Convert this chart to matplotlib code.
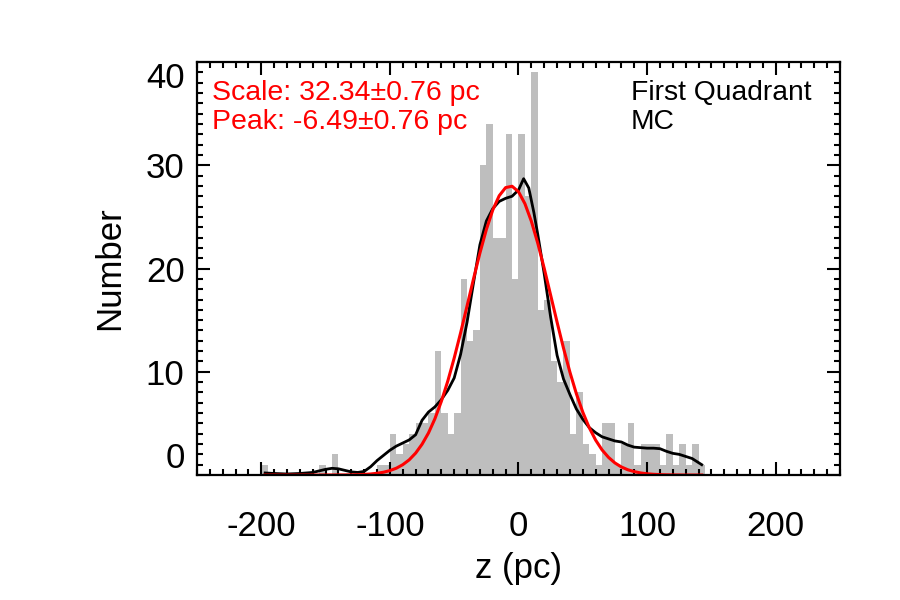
import matplotlib
matplotlib.use('Agg')
import matplotlib.pyplot as plt
from matplotlib.ticker import MultipleLocator

plt.rcParams['font.family'] = ['Liberation Sans', 'DejaVu Sans']
plt.rcParams['axes.unicode_minus'] = False

# histogram: left bin edges (pc) and counts, 5 pc bins
bin_left = list(range(-200, 145, 5))
counts = [1, 0, 0, 0, 0, 0, 0, 0, 0, 1,
          0, 2, 0, 0, 0, 0, 0, 0, 1, 1,
          4, 2, 3, 4, 5, 5, 6, 12, 6, 4,
          6, 19, 13, 14, 30, 34, 23, 23, 33, 19,
          33, 27, 39, 16, 17, 11, 9, 13, 4, 8,
          3, 2, 1, 5, 5, 1, 3, 5, 1, 3,
          3, 3, 1, 4, 1, 3, 1, 3, 1]

# smoothed distribution (black)
smooth_z = [-197, -190, -180, -170, -160, -150, -145, -140, -135, -130,
            -125, -120, -115, -110, -105, -100, -95, -90, -85, -80,
            -75, -70, -65, -60, -55, -50, -45, -40, -35, -30,
            -25, -20, -15, -10, -5, 0, 4, 8, 12, 15,
            20, 25, 30, 35, 40, 45, 50, 55, 60, 65,
            70, 75, 80, 85, 90, 95, 100, 105, 110, 115,
            120, 125, 130, 135, 140, 142.5]
smooth_n = [0.2, 0.15, 0.1, 0.15, 0.25, 0.55, 0.65, 0.6, 0.45, 0.3,
            0.25, 0.35, 0.8, 1.4, 1.9, 2.4, 2.8, 3.1, 3.4, 3.9,
            5.3, 6.1, 6.6, 7.3, 8.2, 9.4, 11.7, 14.8, 18.6, 22.3,
            24.6, 25.8, 26.5, 26.8, 27.0, 27.6, 28.7, 27.8, 25.4, 23.3,
            19.5, 15.3, 11.6, 9.3, 7.8, 6.4, 5.4, 4.6, 4.1, 3.7,
            3.5, 3.3, 3.2, 2.9, 2.7, 2.65, 2.6, 2.6, 2.55, 2.3,
            2.1, 2.0, 1.8, 1.6, 1.2, 1.0]

# fitted curve (red)
fit_z = [-197, -185, -170, -155, -140, -135, -130, -125, -120, -115,
         -110, -105, -100, -95, -90, -85, -80, -75, -70, -65,
         -60, -55, -50, -45, -40, -35, -30, -25, -20, -15,
         -10, -5, 0, 5, 10, 15, 20, 25, 30, 35,
         40, 45, 50, 55, 60, 65, 70, 75, 80, 85,
         90, 95, 100, 105, 110, 115, 120, 130, 142.5]
fit_n = [0, 0, 0, 0, 0.01, 0.01, 0.02, 0.03, 0.06, 0.1,
         0.17, 0.27, 0.43, 0.66, 1.0, 1.47, 2.12, 2.98, 4.07, 5.45,
         7.13, 9.09, 11.33, 13.78, 16.37, 18.99, 21.5, 23.77, 25.67, 27.05,
         27.84, 27.97, 27.44, 26.28, 24.58, 22.45, 20.02, 17.42, 14.81, 12.29,
         9.96, 7.88, 6.09, 4.59, 3.38, 2.43, 1.71, 1.17, 0.78, 0.51,
         0.33, 0.2, 0.12, 0.07, 0.04, 0.02, 0.01, 0, 0]

fig = plt.figure(figsize=(9, 6), dpi=100)
ax = fig.add_axes([0.2189, 0.2083, 0.7144, 0.6883])

ax.bar(bin_left, counts, width=5, align='edge', color='#bebebe', edgecolor='none')
ax.plot(smooth_z, smooth_n, color='black', lw=2.0)
ax.plot(fit_z, fit_n, color='#ff0000', lw=2.2)

ax.set_xlim(-250, 250)
ax.set_ylim(0, 40)
ax.set_xticks([-200, -100, 0, 100, 200])
ax.set_yticks([0, 10, 20, 30, 40])
ax.xaxis.set_minor_locator(MultipleLocator(10))
ax.yaxis.set_minor_locator(MultipleLocator(1))
ax.tick_params(which='both', direction='in', top=True, right=True, width=1.5)
ax.tick_params(which='major', length=9.5)
ax.tick_params(which='minor', length=4.5)
ax.tick_params(axis='x', which='major', labelsize=25, pad=25)
ax.tick_params(axis='y', which='major', labelsize=25, pad=9)
for s in ax.spines.values():
    s.set_linewidth(1.6)

ylabs = ax.get_yticklabels()
ylabs[0].set_va('bottom')
ylabs[-1].set_va('top')

ax.set_xlabel('z (pc)', fontsize=25, labelpad=7)
ax.set_ylabel('Number', fontsize=25, labelpad=14)

ax.text(0.023, 0.925, 'Scale: 32.34\u00b10.76 pc', color='#ff0000', fontsize=20.5,
        transform=ax.transAxes, va='center')
ax.text(0.023, 0.855, 'Peak: -6.49\u00b10.76 pc', color='#ff0000', fontsize=20.5,
        transform=ax.transAxes, va='center')
ax.text(0.675, 0.925, 'First Quadrant', color='black', fontsize=20.3,
        transform=ax.transAxes, va='center')
ax.text(0.675, 0.855, 'MC', color='black', fontsize=20.3,
        transform=ax.transAxes, va='center')

fig.savefig('out.png', dpi=100)
